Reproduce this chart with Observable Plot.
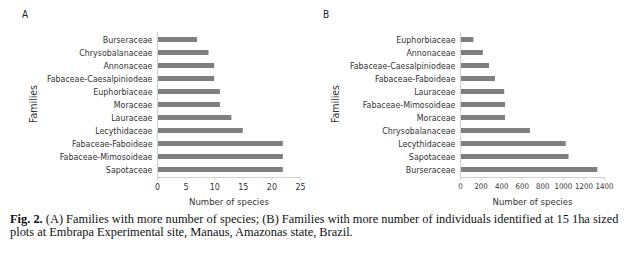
<!DOCTYPE html>
<html>
<head>
<meta charset="utf-8">
<script src="https://cdn.jsdelivr.net/npm/d3@7"></script>
<script src="https://cdn.jsdelivr.net/npm/@observablehq/plot@0.6"></script>
<style>
  html, body { margin: 0; padding: 0; background: #fff; }
  #wrap { position: relative; width: 639px; height: 275px; overflow: hidden; font-family: "DejaVu Sans Condensed", "Liberation Sans", sans-serif; color: #222; }
  .panel { position: absolute; top: 0; }
  .letter { position: absolute; font-size: 10px; }
  .ytitle { position: absolute; font-size: 10.5px; width: 60px; text-align: center; transform: rotate(-90deg); transform-origin: center; white-space: nowrap; color: #333; }
  .capline { position: absolute; left: 10px; white-space: nowrap; font-family: "Liberation Serif", "DejaVu Serif", serif; font-size: 12.4px; line-height: 13px; color: #111; }
  svg text { fill: #333; }
</style>
</head>
<body>
<div id="wrap">
  <div id="pa" class="panel" style="left:0px;"></div>
  <div id="pb" class="panel" style="left:320px;"></div>
  <div class="letter" style="left:22px; top:9px;">A</div>
  <div class="letter" style="left:323px; top:9px;">B</div>
  <div class="ytitle" style="left:3px; top:98px;">Families</div>
  <div class="ytitle" style="left:305px; top:98px;">Families</div>
  <div class="capline" style="top:213px;"><b>Fig. 2.</b> (A) Families with more number of species; (B) Families with more number of individuals identified at 15 1ha sized</div>
  <div class="capline" style="top:226px;">plots at Embrapa Experimental site, Manaus, Amazonas state, Brazil.</div>
</div>
<script>
// Panel A: number of species per family (top to bottom)
const familiesA = ["Burseraceae", "Chrysobalanaceae", "Annonaceae", "Fabaceae-Caesalpiniodeae", "Euphorbiaceae", "Moraceae", "Lauraceae", "Lecythidaceae", "Fabaceae-Faboideae", "Fabaceae-Mimosoideae", "Sapotaceae"];
const speciesA = [7, 9, 10, 10, 11, 11, 13, 15, 22, 22, 22];
const ticksA = [0, 5, 10, 15, 20, 25];

// Panel B: number of individuals per family (top to bottom)
const familiesB = ["Euphorbiaceae", "Annonaceae", "Fabaceae-Caesalpiniodeae", "Fabaceae-Faboideae", "Lauraceae", "Fabaceae-Mimosoideae", "Moraceae", "Chrysobalanaceae", "Lecythidaceae", "Sapotaceae", "Burseraceae"];
const individualsB = [130, 222, 282, 340, 430, 438, 438, 680, 1028, 1055, 1335];
const ticksB = [0, 200, 400, 600, 800, 1000, 1200, 1400];

const xTitle = "Number of species";

function panel(families, values, ticks, xmax, opts) {
  const data = families.map((f, i) => ({family: f, value: values[i]}));
  return Plot.plot({
    width: opts.width,
    height: 210,
    marginLeft: opts.marginLeft,
    marginRight: opts.marginRight,
    marginTop: 32,
    marginBottom: 33,
    style: {fontFamily: '"DejaVu Sans Condensed", sans-serif', fontSize: "8.8px", color: "#333", background: "transparent"},
    x: {domain: [0, xmax]},
    y: {domain: families, paddingInner: 0.64, paddingOuter: 0.31},
    marks: [
      Plot.barX(data, {x: "value", y: "family", fill: "#7f7f7f"}),
      Plot.ruleX([0], {stroke: "#d0d0d0"}),
      Plot.frame({anchor: "bottom", stroke: "#d0d0d0"}),
      Plot.axisX({ticks: ticks, tickFormat: d3.format("d"), tickSize: 3, tickPadding: 3, stroke: "#d0d0d0", label: null, fontSize: opts.xFont}),
      Plot.axisY({tickSize: 0, tickPadding: 5, label: null}),
      Plot.text([xTitle], {frameAnchor: "bottom", dy: 27, fontSize: 9.5, fill: "#333"})
    ]
  });
}

document.getElementById("pa").appendChild(panel(familiesA, speciesA, ticksA, 25, {width: 320, marginLeft: 157, marginRight: 20, xFont: "8.8px"}));
document.getElementById("pb").appendChild(panel(familiesB, individualsB, ticksB, 1400, {width: 319, marginLeft: 140, marginRight: 35, xFont: "7.8px"}));
</script>
</body>
</html>
